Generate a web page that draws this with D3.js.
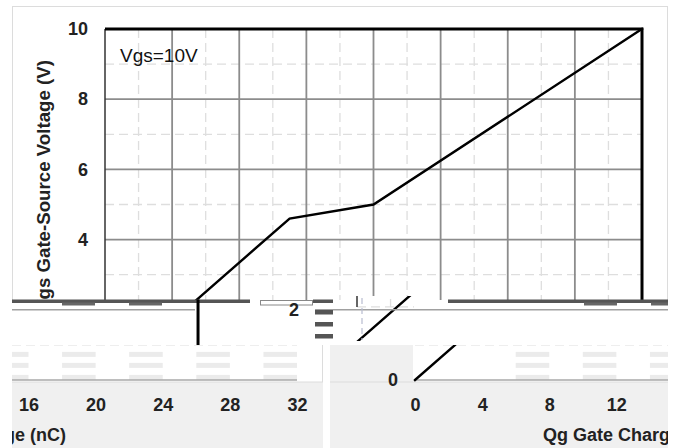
<!DOCTYPE html>
<html>
<head>
<meta charset="utf-8">
<script src="https://cdn.jsdelivr.net/npm/d3@7"></script>
<style>
  html, body { margin: 0; padding: 0; background: #fff; }
  svg { display: block; font-family: "Liberation Sans", Arial, sans-serif; }
</style>
</head>
<body>
<svg id="chart" width="679" height="448"></svg>
<script>
// Gate charge curve: Qg (nC) vs Vgs (V)
const gateCharge  = [0, 11, 16, 32];
const gateVoltage = [0, 4.6, 5, 10];
const chargeTicks  = [0, 4, 8, 12, 16, 20, 24, 28, 32];
const voltageTicks = [0, 2, 4, 6, 8, 10];
const annotation = "Vgs=10V";
const xTitle = "Qg Gate Charge (nC)";
const yTitle = "Vgs Gate-Source Voltage (V)";

const W = 679, H = 448;
const plot = { left: 105, right: 642, top: 29, bottom: 380 };
const x = d3.scaleLinear().domain([0, 32]).range([plot.left, plot.right]);
const y = d3.scaleLinear().domain([0, 10]).range([plot.bottom, plot.top]);
const points = gateCharge.map((q, i) => [q, gateVoltage[i]]);

const svg = d3.select("#chart");
const defs = svg.append("defs");

function drawBase(g) {
  // card and footer strip
  g.append("rect").attr("x", 103).attr("y", 6).attr("width", 565).attr("height", 376).attr("fill", "#fff");
  g.append("rect").attr("x", 12).attr("y", 382).attr("width", 656).attr("height", 66).attr("fill", "#f0f0f0");
  g.append("rect").attr("x", 12.5).attr("y", 6.5).attr("width", 655).attr("height", 375.5)
    .attr("fill", "none").attr("stroke", "#dcdcdc");

  const gridBottom = y(1);
  const minorQ = d3.range(2, 32, 4);
  const minorV = d3.range(1, 10, 2);
  // minor dashed grid
  g.append("g").selectAll("line").data(minorQ).join("line")
    .attr("x1", d => x(d)).attr("x2", d => x(d))
    .attr("y1", plot.top).attr("y2", gridBottom)
    .attr("stroke", "#dedede").attr("stroke-width", 1.3).attr("stroke-dasharray", "9,5");
  g.append("g").selectAll("line").data(minorV).join("line")
    .attr("x1", plot.left).attr("x2", plot.right)
    .attr("y1", d => y(d)).attr("y2", d => y(d))
    .attr("stroke", "#dedede").attr("stroke-width", 1.3).attr("stroke-dasharray", "9,5");
  // major grid
  g.append("g").selectAll("line").data(chargeTicks.filter(d => d > 0 && d < 32)).join("line")
    .attr("x1", d => x(d)).attr("x2", d => x(d))
    .attr("y1", plot.top).attr("y2", gridBottom)
    .attr("stroke", "#8c8c8c").attr("stroke-width", 1.8);
  g.append("g").selectAll("line").data(voltageTicks.filter(d => d > 0 && d < 10)).join("line")
    .attr("x1", plot.left).attr("x2", plot.right)
    .attr("y1", d => y(d)).attr("y2", d => y(d))
    .attr("stroke", "#8c8c8c").attr("stroke-width", 1.8);

  // banded strip between 0 V and 1 V
  const bandCols = d3.range(1, 8).map(k => [4 * k + 2, 4 * k + 4]);
  const bandRows = [7, 18, 30];
  bandRows.forEach(off => {
    g.append("g").selectAll("rect").data(bandCols).join("rect")
      .attr("x", d => x(d[0])).attr("width", d => x(d[1]) - x(d[0]))
      .attr("y", gridBottom + off).attr("height", 5)
      .attr("fill", "#ebebeb");
  });

  // x baseline
  g.append("line").attr("x1", plot.left).attr("x2", plot.right)
    .attr("y1", plot.bottom).attr("y2", plot.bottom)
    .attr("stroke", "#a8a8a8").attr("stroke-width", 1.5);
  // left axis
  g.append("line").attr("x1", plot.left).attr("x2", plot.left)
    .attr("y1", plot.top).attr("y2", gridBottom)
    .attr("stroke", "#333").attr("stroke-width", 1.5);
  // top and right frame
  g.append("path")
    .attr("d", `M${plot.left},${plot.top}H${plot.right}V${gridBottom}`)
    .attr("fill", "none").attr("stroke", "#000").attr("stroke-width", 3);

  // curve
  g.append("path").datum(points)
    .attr("d", d3.line().x(d => x(d[0])).y(d => y(d[1])))
    .attr("fill", "none").attr("stroke", "#000").attr("stroke-width", 2.4)
    .attr("stroke-linejoin", "miter").attr("stroke-linecap", "square");

  // axes labels
  const yAxis = g.append("g").attr("transform", `translate(${plot.left},0)`)
    .call(d3.axisLeft(y).tickValues(voltageTicks).tickSize(0).tickPadding(17));
  const xAxis = g.append("g").attr("transform", `translate(0,${plot.bottom})`)
    .call(d3.axisBottom(x).tickValues(chargeTicks).tickSize(0).tickPadding(18));
  [yAxis, xAxis].forEach(a => {
    a.select(".domain").remove();
    a.selectAll("text").attr("font-family", "Liberation Sans, Arial, sans-serif")
      .attr("font-size", 18).attr("font-weight", "bold").attr("fill", "#222");
  });

  g.append("text").attr("x", 322).attr("y", 441).attr("text-anchor", "middle")
    .attr("font-size", 18).attr("font-weight", "bold").attr("fill", "#222").text(xTitle);
  g.append("text").attr("transform", "translate(50,186) rotate(-90)").attr("text-anchor", "middle")
    .attr("font-size", 18.7).attr("font-weight", "bold").attr("fill", "#222").text(yTitle);

  g.append("text").attr("x", 120).attr("y", 62)
    .attr("font-size", 19).attr("fill", "#111").text(annotation);
}

function tile(id, clip, dx, dy, fill) {
  defs.append("clipPath").attr("id", id).append("rect")
    .attr("x", clip[0]).attr("y", clip[1]).attr("width", clip[2]).attr("height", clip[3]);
  const g = svg.append("g").attr("clip-path", `url(#${id})`);
  if (fill) g.append("rect").attr("x", clip[0]).attr("y", clip[1])
    .attr("width", clip[2]).attr("height", clip[3]).attr("fill", fill);
  drawBase(g.append("g").attr("transform", `translate(${dx},${dy})`));
}

tile("t-top", [0, 0, 679, 300], 0, 0, null);
tile("t-bl", [12, 345, 314, 103], -345, 0, "#fff");
tile("t-br", [330, 345, 338, 103], 310, 0, "#f0f0f0");
tile("t-mid", [352, 296, 62, 45], 252, -38, "#fff");

// torn band across the lower plot edge
const band = svg.append("g");
const barY = 299.5;
[[12, 250], [313, 333], [448, 668]].forEach(([a, b]) =>
  band.append("rect").attr("x", a).attr("y", barY).attr("width", b - a).attr("height", 3.5).attr("fill", "#555"));
[[62, 95], [129, 162], [584, 617], [651, 668]].forEach(([a, b]) =>
  band.append("rect").attr("x", a).attr("y", barY + 3).attr("width", b - a).attr("height", 3).attr("fill", "#666"));
band.append("rect").attr("x", 260.5).attr("y", 300.5).attr("width", 52).attr("height", 4.5)
  .attr("fill", "#fff").attr("stroke", "#888").attr("stroke-width", 1);
[[12, 195], [315, 668]].forEach(([a, b]) =>
  band.append("line").attr("x1", a).attr("x2", b).attr("y1", y(2)).attr("y2", y(2))
    .attr("stroke", "#a0a0a0").attr("stroke-width", 1.5));
[310, 322, 334].forEach(v =>
  band.append("rect").attr("x", 315).attr("y", v).attr("width", 18).attr("height", 4.5).attr("fill", "#555"));
band.append("line").attr("x1", 362).attr("x2", 362).attr("y1", 298).attr("y2", 340)
  .attr("stroke", "#b8bcd0").attr("stroke-width", 1.2).attr("stroke-dasharray", "6,4");
// curve stem where the trace meets the band
const vCut = y.invert(barY);
const qCut = gateCharge[1] * vCut / gateVoltage[1];
band.append("line").attr("x1", x(qCut) + 1).attr("x2", x(qCut) + 1).attr("y1", barY).attr("y2", 345)
  .attr("stroke", "#000").attr("stroke-width", 3);

tile("t-two", [282, 300, 20, 18], 211, 0, null);
</script>
</body>
</html>
